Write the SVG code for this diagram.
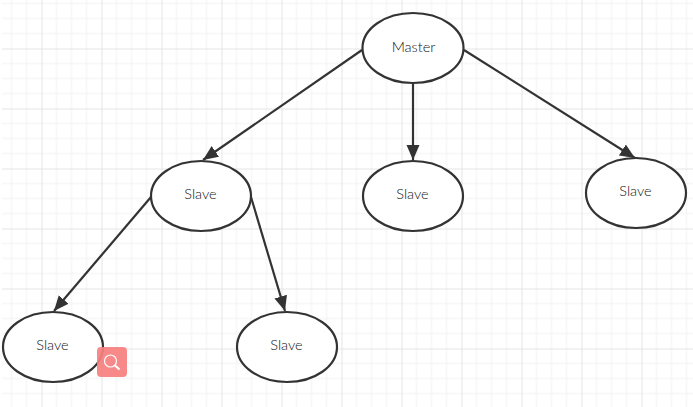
<svg xmlns="http://www.w3.org/2000/svg" width="693" height="407" viewBox="0 0 693 407">
<style>
.n{fill:#fff;stroke:#333;stroke-width:2.2}
.t{font-family:"Lato","Liberation Sans",sans-serif;font-size:14.500px;font-weight:300;fill:#111;text-anchor:middle}
.c{fill:none;stroke:#333;stroke-width:2.2;marker-end:url(#a)}
</style>
<defs>
<marker id="a" markerUnits="userSpaceOnUse" markerWidth="16" markerHeight="14" refX="15" refY="6.500" orient="auto"><path d="M0 0L15 6.500L0 13Z" fill="#333"/></marker>
<pattern id="g" width="60" height="60" patternUnits="userSpaceOnUse" x="-18.5" y="-11.5">
<path d="M15 0V60M30 0V60M45 0V60M0 15H60M0 30H60M0 45H60" fill="none" stroke="#f1f1f1" stroke-width="1"/>
<path d="M0 0.5H60M0.5 0V60" fill="none" stroke="#e4e4e4" stroke-width="1"/>
</pattern>
</defs>
<rect width="693" height="407" fill="#fff"/>
<rect x="2" y="0" width="691" height="407" fill="url(#g)"/>
<g id="connectors">
<path class="c" d="M362 50L203 160"/>
<path class="c" d="M413 83V160"/>
<path class="c" d="M464 50L635 158"/>
<path class="c" d="M151 197L54 311"/>
<path class="c" d="M251 197L285 311"/>
</g>
<g id="master"><ellipse class="n" cx="413" cy="48" rx="50.500" ry="35"/><text class="t" x="413.500" y="52">Master</text></g>
<g id="slave1"><ellipse class="n" cx="201" cy="196" rx="50" ry="35"/><text class="t" x="200.500" y="199">Slave</text></g>
<g id="slave2"><ellipse class="n" cx="413" cy="196" rx="50" ry="35"/><text class="t" x="412.500" y="199">Slave</text></g>
<g id="slave3"><ellipse class="n" cx="636" cy="193" rx="50" ry="35"/><text class="t" x="635.500" y="196">Slave</text></g>
<g id="slave4"><ellipse class="n" cx="53" cy="347" rx="50" ry="35"/><text class="t" x="52.500" y="350">Slave</text></g>
<g id="slave5"><ellipse class="n" cx="287" cy="347" rx="50" ry="35"/><text class="t" x="286.500" y="350">Slave</text></g>
<g id="search">
<rect x="97" y="347" width="30" height="30" rx="4" fill="#f67f7f" fill-opacity=".92"/>
<circle cx="110.500" cy="361" r="6" fill="none" stroke="#fff" stroke-width="1.200"/>
<path d="M115 365.500L119.500 369.500" fill="none" stroke="#fff" stroke-width="2.200"/>
</g>
</svg>
